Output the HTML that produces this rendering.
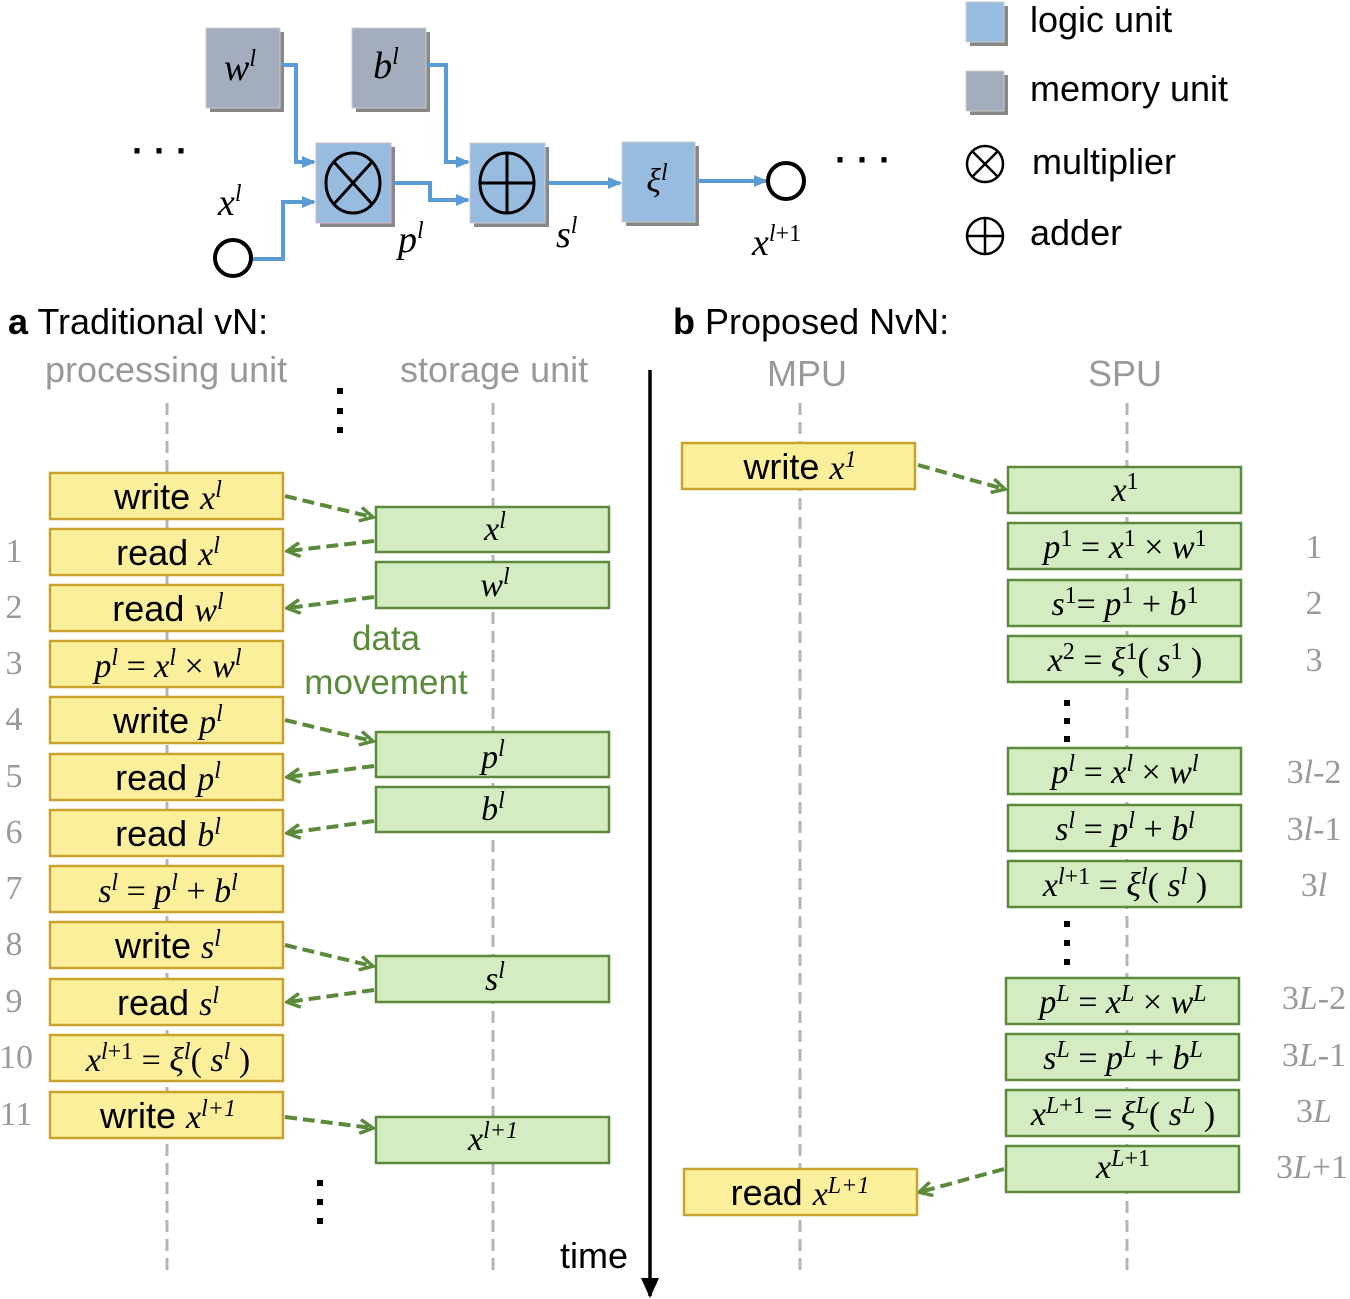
<!DOCTYPE html>
<html><head><meta charset="utf-8"><style>
html,body{margin:0;padding:0;background:#fff}
svg{display:block}
.m{font-family:"Liberation Serif",serif;font-style:italic;font-size:34px;fill:#000}
.s{font-family:"Liberation Sans",sans-serif;font-size:36px;fill:#000}
.g{font-family:"Liberation Sans",sans-serif;font-size:36px;fill:#999}
.n{font-family:"Liberation Serif",serif;font-size:34px;fill:#999}
tspan[font-size="24"]{font-size:24px}
.y{fill:#fcef9c;stroke:#c9a22a;stroke-width:2.5}
.gr{fill:#d3ecc1;stroke:#5b8a3c;stroke-width:2.5}
.dl{stroke:#b5b5b5;stroke-width:3;stroke-dasharray:12,7}
.ar{stroke:#5a8a3a;stroke-width:4;stroke-dasharray:12,6;fill:none}
.bl{stroke:#5b9bd5;stroke-width:4;fill:none}
</style></head><body>
<svg width="1350" height="1299" viewBox="0 0 1350 1299" xmlns="http://www.w3.org/2000/svg">
<defs>
<marker id="ga" markerWidth="16" markerHeight="16" refX="13" refY="8" orient="auto" markerUnits="userSpaceOnUse" viewBox="0 0 16 16"><path d="M1,1 L14,8 L1,15" fill="none" stroke="#5a8a3a" stroke-width="3.5"/></marker>
<marker id="ba" markerWidth="14" markerHeight="14" refX="12" refY="7" orient="auto" markerUnits="userSpaceOnUse"><path d="M0,1 L14,7 L0,13 Z" fill="#5b9bd5"/></marker>
<marker id="ka" markerWidth="22" markerHeight="22" refX="18" refY="11" orient="auto" markerUnits="userSpaceOnUse"><path d="M0,2 L20,11 L0,20 Z" fill="#000"/></marker>
</defs>

<!-- top diagram -->
<rect x="210" y="32" width="74" height="80" fill="#888"/>
<rect x="206" y="28" width="74" height="80" fill="#a4adbd" stroke="#ccc"/>
<text class="m" x="240" y="80" text-anchor="middle" style="font-size:38px">w<tspan dy="-14" font-size="24">l</tspan></text>
<rect x="356" y="32" width="74" height="80" fill="#888"/>
<rect x="352" y="28" width="74" height="80" fill="#a4adbd" stroke="#ccc"/>
<text class="m" x="386" y="78" text-anchor="middle" style="font-size:38px">b<tspan dy="-14" font-size="24">l</tspan></text>

<rect x="320" y="147" width="75" height="80" fill="#888"/>
<rect x="316" y="143" width="75" height="80" fill="#98bcdf" stroke="#d9b3c9"/>
<ellipse cx="353" cy="183" rx="27" ry="30" fill="none" stroke="#000" stroke-width="3"/>
<line x1="334" y1="162" x2="372" y2="204" stroke="#000" stroke-width="3"/>
<line x1="372" y1="162" x2="334" y2="204" stroke="#000" stroke-width="3"/>
<rect x="474" y="147" width="75" height="80" fill="#888"/>
<rect x="470" y="143" width="75" height="80" fill="#98bcdf" stroke="#ccc"/>
<ellipse cx="507" cy="183" rx="27" ry="30" fill="none" stroke="#000" stroke-width="3"/>
<line x1="480" y1="183" x2="534" y2="183" stroke="#000" stroke-width="3"/>
<line x1="507" y1="153" x2="507" y2="213" stroke="#000" stroke-width="3"/>
<rect x="626" y="146" width="73" height="80" fill="#888"/>
<rect x="622" y="142" width="73" height="80" fill="#98bcdf" stroke="#ccc"/>
<text class="m" x="657" y="192" text-anchor="middle">ξ<tspan dy="-12" font-size="24">l</tspan></text>

<path class="bl" d="M282,65 H296 V162 H314" marker-end="url(#ba)"/>
<path class="bl" d="M252,259 H283 V202 H314" marker-end="url(#ba)"/>
<path class="bl" d="M428,65 H446 V162 H468" marker-end="url(#ba)"/>
<path class="bl" d="M393,183 H430 V200 H468" marker-end="url(#ba)"/>
<path class="bl" d="M547,183 H620" marker-end="url(#ba)"/>
<path class="bl" d="M697,181 H766" marker-end="url(#ba)"/>
<circle cx="233" cy="258" r="18" fill="#fff" stroke="#000" stroke-width="4"/>
<circle cx="786" cy="181" r="18" fill="#fff" stroke="#000" stroke-width="4"/>
<text class="m" x="218" y="215" style="font-size:38px">x<tspan dy="-14" font-size="24">l</tspan></text>
<text class="m" x="398" y="252" style="font-size:38px">p<tspan dy="-14" font-size="24">l</tspan></text>
<text class="m" x="556" y="247" style="font-size:38px">s<tspan dy="-14" font-size="24">l</tspan></text>
<text class="m" x="752" y="255" style="font-size:38px">x<tspan dy="-14" font-size="24">l</tspan><tspan font-size="24" font-style="normal">+1</tspan></text>
<text class="s" x="132" y="163" font-weight="bold">· · ·</text>
<text class="s" x="835" y="172" font-weight="bold">· · ·</text>

<!-- legend -->
<rect x="970" y="6" width="38" height="40" fill="#888"/>
<rect x="966" y="2" width="38" height="40" fill="#98bcdf" stroke="#ccc"/>
<rect x="970" y="75" width="38" height="40" fill="#888"/>
<rect x="966" y="71" width="38" height="40" fill="#a4adbd" stroke="#ccc"/>
<text class="s" x="1030" y="32">logic unit</text>
<text class="s" x="1030" y="101">memory unit</text>
<circle cx="985" cy="164" r="18" fill="none" stroke="#000" stroke-width="2.5"/>
<line x1="972" y1="151" x2="998" y2="177" stroke="#000" stroke-width="2.5"/>
<line x1="998" y1="151" x2="972" y2="177" stroke="#000" stroke-width="2.5"/>
<text class="s" x="1032" y="174">multiplier</text>
<circle cx="985" cy="236" r="18" fill="none" stroke="#000" stroke-width="2.5"/>
<line x1="967" y1="236" x2="1003" y2="236" stroke="#000" stroke-width="2.5"/>
<line x1="985" y1="218" x2="985" y2="254" stroke="#000" stroke-width="2.5"/>
<text class="s" x="1030" y="245">adder</text>

<!-- headings -->
<text class="s" x="8" y="334"><tspan font-weight="bold">a</tspan> Traditional vN:</text>
<text class="s" x="673" y="334"><tspan font-weight="bold">b</tspan> Proposed NvN:</text>
<text class="g" x="45" y="382">processing unit</text>
<text class="g" x="400" y="382">storage unit</text>
<text class="g" x="767" y="386">MPU</text>
<text class="g" x="1088" y="386">SPU</text>

<line class="dl" x1="167" y1="403" x2="167" y2="1275"/>
<line class="dl" x1="493" y1="403" x2="493" y2="1275"/>
<line class="dl" x1="800" y1="403" x2="800" y2="1275"/>
<line class="dl" x1="1127" y1="403" x2="1127" y2="1275"/>

<!-- vertical dots -->
<g fill="#000">
<rect x="337" y="388" width="6" height="6"/><rect x="337" y="408" width="6" height="6"/><rect x="337" y="427" width="6" height="6"/>
<rect x="317" y="1180" width="6" height="6"/><rect x="317" y="1199" width="6" height="6"/><rect x="317" y="1218" width="6" height="6"/>
<rect x="1064" y="700" width="6" height="6"/><rect x="1064" y="718" width="6" height="6"/><rect x="1064" y="736" width="6" height="6"/>
<rect x="1064" y="921" width="6" height="6"/><rect x="1064" y="940" width="6" height="6"/><rect x="1064" y="959" width="6" height="6"/>
</g>

<!-- time axis -->
<line x1="650" y1="370" x2="650" y2="1296" stroke="#000" stroke-width="3.5" marker-end="url(#ka)"/>
<text class="s" x="560" y="1268">time</text>

<!-- left yellow boxes -->
<g>
<rect class="y" x="50" y="473" width="233" height="46"/>
<rect class="y" x="50" y="529" width="233" height="46"/>
<rect class="y" x="50" y="585" width="233" height="46"/>
<rect class="y" x="50" y="641" width="233" height="46"/>
<rect class="y" x="50" y="697" width="233" height="46"/>
<rect class="y" x="50" y="754" width="233" height="46"/>
<rect class="y" x="50" y="810" width="233" height="46"/>
<rect class="y" x="50" y="866" width="233" height="46"/>
<rect class="y" x="50" y="922" width="233" height="46"/>
<rect class="y" x="50" y="979" width="233" height="46"/>
<rect class="y" x="50" y="1035" width="233" height="46"/>
<rect class="y" x="50" y="1092" width="233" height="46"/>
</g>
<g text-anchor="middle">
<text class="s" x="168" y="509">write <tspan class="m">x</tspan><tspan class="m" dy="-12" font-size="24">l</tspan></text>
<text class="s" x="168" y="565">read <tspan class="m">x</tspan><tspan class="m" dy="-12" font-size="24">l</tspan></text>
<text class="s" x="168" y="621">read <tspan class="m">w</tspan><tspan class="m" dy="-12" font-size="24">l</tspan></text>
<text class="m" x="168" y="677">p<tspan dy="-12" font-size="24">l</tspan><tspan dy="12" font-style="normal"> = </tspan>x<tspan dy="-12" font-size="24">l</tspan><tspan dy="12" font-style="normal"> × </tspan>w<tspan dy="-12" font-size="24">l</tspan></text>
<text class="s" x="168" y="733">write <tspan class="m">p</tspan><tspan class="m" dy="-12" font-size="24">l</tspan></text>
<text class="s" x="168" y="790">read <tspan class="m">p</tspan><tspan class="m" dy="-12" font-size="24">l</tspan></text>
<text class="s" x="168" y="846">read <tspan class="m">b</tspan><tspan class="m" dy="-12" font-size="24">l</tspan></text>
<text class="m" x="168" y="902">s<tspan dy="-12" font-size="24">l</tspan><tspan dy="12" font-style="normal"> = </tspan>p<tspan dy="-12" font-size="24">l</tspan><tspan dy="12" font-style="normal"> + </tspan>b<tspan dy="-12" font-size="24">l</tspan></text>
<text class="s" x="168" y="958">write <tspan class="m">s</tspan><tspan class="m" dy="-12" font-size="24">l</tspan></text>
<text class="s" x="168" y="1015">read <tspan class="m">s</tspan><tspan class="m" dy="-12" font-size="24">l</tspan></text>
<text class="m" x="168" y="1071">x<tspan dy="-12" font-size="24">l</tspan><tspan font-size="24" font-style="normal">+1</tspan><tspan dy="12" font-style="normal"> = </tspan>ξ<tspan dy="-12" font-size="24">l</tspan><tspan dy="12" font-style="normal">( </tspan>s<tspan dy="-12" font-size="24">l</tspan><tspan dy="12" font-style="normal"> )</tspan></text>
<text class="s" x="168" y="1128">write <tspan class="m">x</tspan><tspan class="m" dy="-12" font-size="24">l</tspan><tspan class="m" font-size="24" font-style="normal">+1</tspan></text>
</g>
<g class="n" text-anchor="middle">
<text x="14" y="562">1</text><text x="14" y="618">2</text><text x="14" y="674">3</text>
<text x="14" y="730">4</text><text x="14" y="787">5</text><text x="14" y="843">6</text>
<text x="14" y="899">7</text><text x="14" y="955">8</text><text x="14" y="1012">9</text>
<text x="16" y="1068">10</text><text x="16" y="1125">11</text>
</g>

<!-- left green boxes -->
<rect class="gr" x="376" y="507" width="233" height="45"/>
<rect class="gr" x="376" y="562" width="233" height="46"/>
<rect class="gr" x="376" y="732" width="233" height="45"/>
<rect class="gr" x="376" y="787" width="233" height="45"/>
<rect class="gr" x="376" y="956" width="233" height="46"/>
<rect class="gr" x="376" y="1117" width="233" height="46"/>
<g class="m" text-anchor="middle">
<text x="495" y="540">x<tspan dy="-12" font-size="24">l</tspan></text>
<text x="495" y="596">w<tspan dy="-12" font-size="24">l</tspan></text>
<text x="493" y="768">p<tspan dy="-12" font-size="24">l</tspan></text>
<text x="493" y="820">b<tspan dy="-12" font-size="24">l</tspan></text>
<text x="495" y="990">s<tspan dy="-12" font-size="24">l</tspan></text>
<text x="493" y="1150">x<tspan dy="-12" font-size="24">l</tspan><tspan font-size="24">+1</tspan></text>
</g>
<text x="386" y="650" text-anchor="middle" style="font-family:'Liberation Sans',sans-serif;font-size:35px;fill:#5a8a3a">data</text>
<text x="386" y="694" text-anchor="middle" style="font-family:'Liberation Sans',sans-serif;font-size:35px;fill:#5a8a3a">movement</text>

<!-- arrows -->
<g class="ar">
<line x1="285" y1="496" x2="372" y2="517" marker-end="url(#ga)"/>
<line x1="374" y1="541" x2="288" y2="551" marker-end="url(#ga)"/>
<line x1="374" y1="597" x2="288" y2="608" marker-end="url(#ga)"/>
<line x1="285" y1="720" x2="372" y2="741" marker-end="url(#ga)"/>
<line x1="374" y1="766" x2="288" y2="777" marker-end="url(#ga)"/>
<line x1="374" y1="821" x2="288" y2="833" marker-end="url(#ga)"/>
<line x1="285" y1="945" x2="372" y2="966" marker-end="url(#ga)"/>
<line x1="374" y1="990" x2="288" y2="1002" marker-end="url(#ga)"/>
<line x1="285" y1="1117" x2="372" y2="1128" marker-end="url(#ga)"/>
<line x1="918" y1="465" x2="1004" y2="489" marker-end="url(#ga)"/>
<line x1="1004" y1="1169" x2="920" y2="1192" marker-end="url(#ga)"/>
</g>

<!-- right -->
<rect class="y" x="682" y="443" width="233" height="46"/>
<text class="s" x="800" y="479" text-anchor="middle">write <tspan class="m">x</tspan><tspan class="m" dy="-12" font-size="24" font-style="normal">1</tspan></text>
<rect class="y" x="684" y="1169" width="233" height="46"/>
<text class="s" x="800" y="1205" text-anchor="middle">read <tspan class="m">x</tspan><tspan class="m" dy="-12" font-size="24">L</tspan><tspan class="m" font-size="24" font-style="normal">+1</tspan></text>

<g>
<rect class="gr" x="1008" y="467" width="233" height="46"/>
<rect class="gr" x="1008" y="523" width="233" height="46"/>
<rect class="gr" x="1008" y="580" width="233" height="46"/>
<rect class="gr" x="1008" y="636" width="233" height="46"/>
<rect class="gr" x="1008" y="748" width="233" height="46"/>
<rect class="gr" x="1008" y="805" width="233" height="46"/>
<rect class="gr" x="1008" y="861" width="233" height="46"/>
<rect class="gr" x="1006" y="978" width="233" height="46"/>
<rect class="gr" x="1006" y="1034" width="233" height="46"/>
<rect class="gr" x="1006" y="1090" width="233" height="46"/>
<rect class="gr" x="1006" y="1146" width="233" height="46"/>
</g>
<g class="m" text-anchor="middle">
<text x="1125" y="501">x<tspan dy="-12" font-size="24" font-style="normal">1</tspan></text>
<text x="1125" y="558">p<tspan dy="-12" font-size="24" font-style="normal">1</tspan><tspan dy="12" font-style="normal"> = </tspan>x<tspan dy="-12" font-size="24" font-style="normal">1</tspan><tspan dy="12" font-style="normal"> × </tspan>w<tspan dy="-12" font-size="24" font-style="normal">1</tspan></text>
<text x="1125" y="615">s<tspan dy="-12" font-size="24" font-style="normal">1</tspan><tspan dy="12" font-style="normal">= </tspan>p<tspan dy="-12" font-size="24" font-style="normal">1</tspan><tspan dy="12" font-style="normal"> + </tspan>b<tspan dy="-12" font-size="24" font-style="normal">1</tspan></text>
<text x="1125" y="671">x<tspan dy="-12" font-size="24" font-style="normal">2</tspan><tspan dy="12" font-style="normal"> = </tspan>ξ<tspan dy="-12" font-size="24" font-style="normal">1</tspan><tspan dy="12" font-style="normal">( </tspan>s<tspan dy="-12" font-size="24" font-style="normal">1</tspan><tspan dy="12" font-style="normal"> )</tspan></text>
<text x="1125" y="783">p<tspan dy="-12" font-size="24">l</tspan><tspan dy="12" font-style="normal"> = </tspan>x<tspan dy="-12" font-size="24">l</tspan><tspan dy="12" font-style="normal"> × </tspan>w<tspan dy="-12" font-size="24">l</tspan></text>
<text x="1125" y="840">s<tspan dy="-12" font-size="24">l</tspan><tspan dy="12" font-style="normal"> = </tspan>p<tspan dy="-12" font-size="24">l</tspan><tspan dy="12" font-style="normal"> + </tspan>b<tspan dy="-12" font-size="24">l</tspan></text>
<text x="1125" y="896">x<tspan dy="-12" font-size="24">l</tspan><tspan font-size="24" font-style="normal">+1</tspan><tspan dy="12" font-style="normal"> = </tspan>ξ<tspan dy="-12" font-size="24">l</tspan><tspan dy="12" font-style="normal">( </tspan>s<tspan dy="-12" font-size="24">l</tspan><tspan dy="12" font-style="normal"> )</tspan></text>
<text x="1123" y="1013">p<tspan dy="-12" font-size="24">L</tspan><tspan dy="12" font-style="normal"> = </tspan>x<tspan dy="-12" font-size="24">L</tspan><tspan dy="12" font-style="normal"> × </tspan>w<tspan dy="-12" font-size="24">L</tspan></text>
<text x="1123" y="1069">s<tspan dy="-12" font-size="24">L</tspan><tspan dy="12" font-style="normal"> = </tspan>p<tspan dy="-12" font-size="24">L</tspan><tspan dy="12" font-style="normal"> + </tspan>b<tspan dy="-12" font-size="24">L</tspan></text>
<text x="1123" y="1125">x<tspan dy="-12" font-size="24">L</tspan><tspan font-size="24" font-style="normal">+1</tspan><tspan dy="12" font-style="normal"> = </tspan>ξ<tspan dy="-12" font-size="24">L</tspan><tspan dy="12" font-style="normal">( </tspan>s<tspan dy="-12" font-size="24">L</tspan><tspan dy="12" font-style="normal"> )</tspan></text>
<text x="1123" y="1178">x<tspan dy="-12" font-size="24">L</tspan><tspan font-size="24" font-style="normal">+1</tspan></text>
</g>
<g class="n" text-anchor="middle">
<text x="1314" y="558">1</text><text x="1314" y="614">2</text><text x="1314" y="671">3</text>
<text x="1314" y="783"><tspan>3</tspan><tspan font-style="italic">l</tspan>-2</text>
<text x="1314" y="840"><tspan>3</tspan><tspan font-style="italic">l</tspan>-1</text>
<text x="1314" y="896"><tspan>3</tspan><tspan font-style="italic">l</tspan></text>
<text x="1314" y="1009"><tspan>3</tspan><tspan font-style="italic">L</tspan>-2</text>
<text x="1314" y="1066"><tspan>3</tspan><tspan font-style="italic">L</tspan>-1</text>
<text x="1314" y="1122"><tspan>3</tspan><tspan font-style="italic">L</tspan></text>
<text x="1312" y="1178"><tspan>3</tspan><tspan font-style="italic">L</tspan>+1</text>
</g>
</svg>
</body></html>
